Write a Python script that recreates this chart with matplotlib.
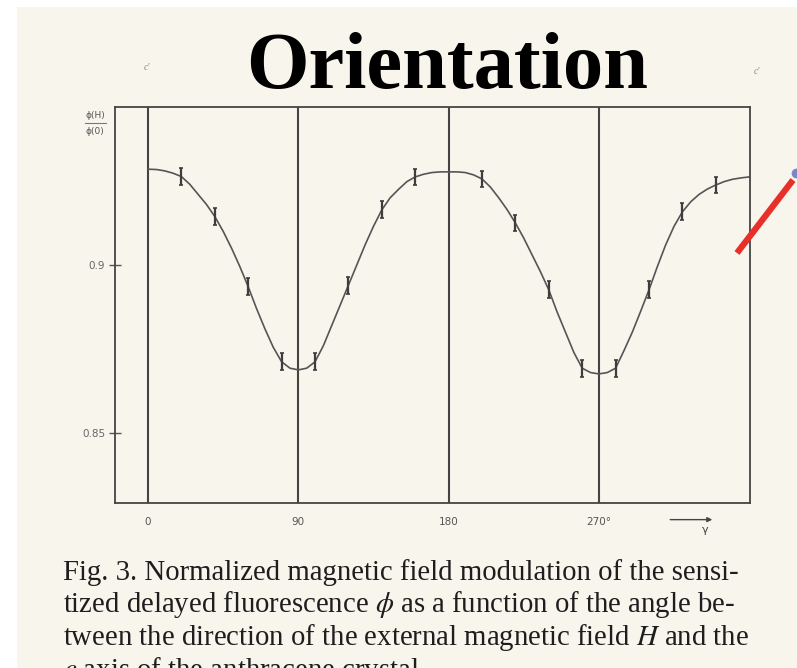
import matplotlib.pyplot as plt
from matplotlib.lines import Line2D
from matplotlib.patches import Rectangle

# measured points (angle in degrees, normalized fluorescence) with error bars
angles = [20, 40, 60, 80, 100, 120, 140, 160, 200, 220, 240, 260, 280, 300, 320, 340]
ratio = [0.9263, 0.9144, 0.8935, 0.8712, 0.8712, 0.8940, 0.9164, 0.9262,
         0.9256, 0.9125, 0.8926, 0.8693, 0.8693, 0.8926, 0.9158, 0.9238]
ratio_err = 0.0025

# fitted curve read every 5 degrees
curve_angles = list(range(0, 361, 5))
curve_ratio = [0.9285, 0.9284, 0.9280, 0.9273, 0.9263, 0.9240, 0.9210, 0.9180,
               0.9144, 0.9100, 0.9050, 0.8995, 0.8935, 0.8870, 0.8810, 0.8755,
               0.8712, 0.8693, 0.8688, 0.8693, 0.8712, 0.8760, 0.8820, 0.8880,
               0.8940, 0.9000, 0.9060, 0.9115, 0.9164, 0.9200, 0.9225, 0.9248,
               0.9262, 0.9270, 0.9275, 0.9277, 0.9277, 0.9277, 0.9275, 0.9268,
               0.9256, 0.9232, 0.9200, 0.9165, 0.9125, 0.9080, 0.9030, 0.8980,
               0.8926, 0.8860, 0.8800, 0.8740, 0.8693, 0.8680, 0.8676, 0.8680,
               0.8693, 0.8745, 0.8800, 0.8862, 0.8926, 0.8995, 0.9060, 0.9115,
               0.9158, 0.9188, 0.9210, 0.9226, 0.9238, 0.9248, 0.9255, 0.9259,
               0.9262]

axis_angles = [0, 90, 180, 270]
xtick_labels = ["0", "90", "180", "270°"]
yticks = [0.85, 0.9]
ytick_labels = ["0.85", "0.9"]

caption = [
    "Fig. 3. Normalized magnetic field modulation of the sensi-",
    "tized delayed fluorescence $\\phi$ as a function of the angle be-",
    "tween the direction of the external magnetic field $H$ and the",
    "$c$ axis of the anthracene crystal.",
]

W, H = 797, 668
bg = "#f8f5ed"

fig = plt.figure(figsize=(W / 100, H / 100), dpi=100, facecolor=bg)
plt.rcParams["mathtext.fontset"] = "stix"

# white margins of the scan
fig.patches.append(Rectangle((0, 0), 16 / W, 1, transform=fig.transFigure,
                             color="white", zorder=0))
fig.patches.append(Rectangle((0, 1 - 6 / H), 1, 6 / H, transform=fig.transFigure,
                             color="white", zorder=0))

left, right, top, bottom = 115, 750, 107, 503
ax = fig.add_axes([left / W, 1 - bottom / H, (right - left) / W, (bottom - top) / H])
ax.set_facecolor(bg)
ax.set_xlim(-19.8, 360.5)
ax.set_ylim(0.8292, 0.947)

for a in axis_angles:
    ax.axvline(a, color="#444444", lw=1.5)

ax.plot(curve_angles, curve_ratio, color="#555555", lw=1.2)
ax.errorbar(angles, ratio, yerr=ratio_err, fmt="none", ecolor="#3d3d3d",
            elinewidth=1.6, capsize=1.5, capthick=1.2)

for s in ax.spines.values():
    s.set_color("#444444")
    s.set_linewidth(1.3)

ax.set_xticks(axis_angles)
ax.set_xticklabels(xtick_labels, fontsize=7.5, color="#555555")
ax.tick_params(axis="x", length=0, pad=10)
ax.set_yticks(yticks)
ax.set_yticklabels(ytick_labels, fontsize=7.5, color="#666666")
ax.tick_params(axis="y", direction="inout", length=8, width=1, color="#555555", pad=3)

# angle arrow under the axis
ax.annotate("", xy=(0.945, -0.042), xytext=(0.87, -0.042), xycoords="axes fraction",
            arrowprops=dict(arrowstyle="-|>", color="#444444", lw=1.0, mutation_scale=7))
ax.text(0.93, -0.055, "γ", transform=ax.transAxes, fontsize=8, color="#444444",
        ha="center", va="top")

# y label as a fraction
fig.text(95 / W, 1 - 115 / H, "ϕ(H)", fontsize=6.5, color="#555555", ha="center", va="center")
fig.add_artist(Line2D([85 / W, 106 / W], [1 - 123 / H, 1 - 123 / H], color="#777777", lw=0.8))
fig.text(95 / W, 1 - 131 / H, "ϕ(0)", fontsize=6.5, color="#555555", ha="center", va="center")

fig.text(447 / W, 1 - 88 / H, "Orientation", fontsize=58, fontweight="bold",
         family="Liberation Serif", ha="center", va="baseline", color="black")
fig.text(147 / W, 1 - 68 / H, "c'", fontsize=7, color="#888888", ha="center", va="center",
         family="Liberation Serif", style="italic")
fig.text(757 / W, 1 - 72 / H, "c'", fontsize=7, color="#888888", ha="center", va="center",
         family="Liberation Serif", style="italic")

for i, line in enumerate(caption):
    fig.text(63 / W, 1 - (580 + i * 32.5) / H, line, fontsize=20.7,
             family="Liberation Serif", color="#1e1e1e", ha="left", va="baseline")

# pointer stroke on the right
fig.add_artist(Line2D([737 / W, 793 / W], [1 - 253 / H, 1 - 180 / H],
                      color="#e8302a", lw=4.5, solid_capstyle="butt"))
fig.add_artist(Line2D([796 / W], [1 - 173 / H], marker="o", markersize=6,
                      color="#7a86c8", lw=0))

fig.savefig("out.png", dpi=100, facecolor=bg)
